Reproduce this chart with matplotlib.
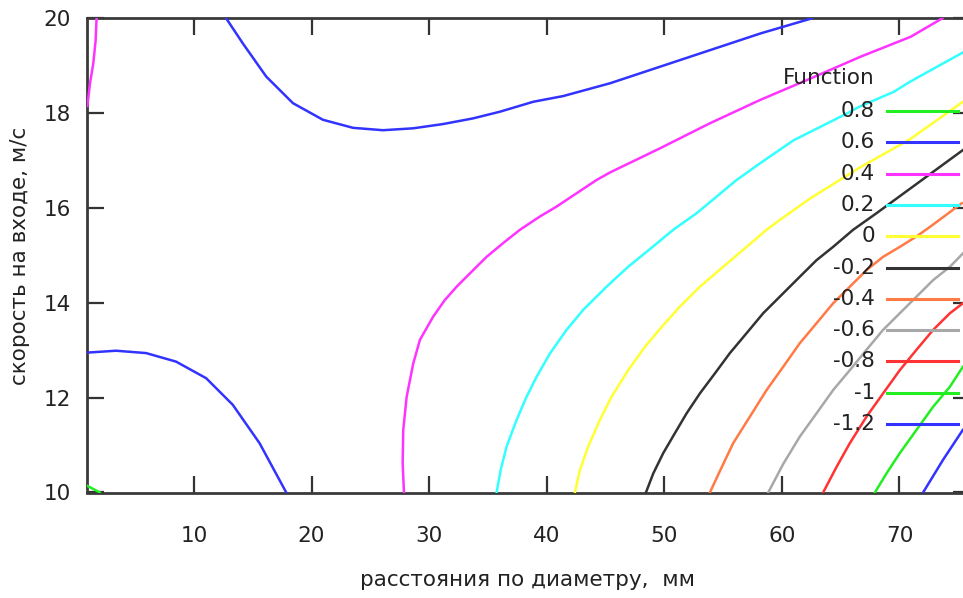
import matplotlib
matplotlib.use("Agg")
import matplotlib.pyplot as plt

# Contour levels and gnuplot-like colours
levels = [0.8, 0.6, 0.4, 0.2, 0, -0.2, -0.4, -0.6, -0.8, -1, -1.2]
level_labels = ["0.8", "0.6", "0.4", "0.2", "0", "-0.2", "-0.4", "-0.6", "-0.8", "-1", "-1.2"]
colors = ["#22ee22", "#3333ff", "#ff33ff", "#33ffff", "#ffff33", "#333333",
          "#ff7a45", "#a8a8a8", "#ff3333", "#22ee22", "#3333ff"]

# Contour lines (x: mm, y: m/s)
c08_x = [0.93, 2.0]
c08_y = [10.14, 10.0]

c06a_x = [0.93, 3.37, 5.93, 8.48, 11.04, 13.30, 15.58, 17.85]
c06a_y = [12.95, 12.99, 12.94, 12.76, 12.41, 11.85, 11.04, 10.0]
c06b_x = [12.74, 14.16, 16.15, 18.42, 20.97, 23.53, 26.08, 28.64, 31.19,
          33.75, 36.02, 38.86, 41.4, 45.39, 49.65, 53.91, 58.17, 62.57]
c06b_y = [20.0, 19.47, 18.77, 18.21, 17.86, 17.69, 17.64, 17.68, 17.77,
          17.89, 18.03, 18.24, 18.36, 18.63, 18.98, 19.33, 19.68, 20.0]

c04a_x = [0.93, 1.01, 1.16, 1.44, 1.64, 1.72]
c04a_y = [18.15, 18.31, 18.63, 19.05, 19.54, 20.0]
c04b_x = [27.86, 27.75, 27.80, 28.09, 28.65, 29.22, 30.35, 31.34, 32.34, 33.75,
          34.89, 36.30, 37.72, 39.42, 40.84, 42.54, 44.24, 45.39, 49.65, 53.91,
          58.17, 62.43, 66.69, 70.95, 73.65]
c04b_y = [10.0, 10.62, 11.32, 12.02, 12.72, 13.22, 13.71, 14.06, 14.34, 14.69,
          14.97, 15.26, 15.54, 15.82, 16.03, 16.31, 16.59, 16.75, 17.26, 17.79,
          18.28, 18.73, 19.19, 19.61, 20.0]

c02_x = [35.74, 36.08, 36.59, 37.44, 38.29, 39.14, 40.27, 41.69, 43.10, 45.09,
         46.93, 49.06, 50.76, 52.75, 54.45, 56.15, 58.13, 61.01, 62.38, 65.27,
         66.63, 69.52, 70.88, 75.4]
c02_y = [10.0, 10.47, 10.97, 11.53, 12.02, 12.44, 12.93, 13.43, 13.85, 14.34,
         14.76, 15.19, 15.54, 15.89, 16.24, 16.59, 16.94, 17.43, 17.6, 17.96,
         18.14, 18.45, 18.66, 19.28]

c00_x = [42.40, 42.82, 43.53, 44.52, 45.52, 46.93, 48.35, 49.77, 51.33, 53.03,
         55.01, 57.00, 58.70, 59.83, 62.4, 66.6, 70.9, 75.4]
c00_y = [10.0, 10.47, 10.97, 11.53, 12.02, 12.58, 13.07, 13.49, 13.92, 14.34,
         14.76, 15.18, 15.54, 15.75, 16.2, 16.85, 17.45, 18.24]

cm02_x = [48.44, 49.06, 49.91, 50.90, 51.90, 53.03, 54.30, 55.58, 57.0, 58.41,
          60.11, 61.81, 62.95, 64.36, 66.06, 68.05, 72.30, 75.39]
cm02_y = [10.0, 10.40, 10.83, 11.25, 11.67, 12.09, 12.51, 12.94, 13.36, 13.78,
          14.20, 14.62, 14.90, 15.18, 15.54, 15.89, 16.66, 17.22]

cm04_x = [53.88, 55.01, 55.86, 57.28, 58.70, 60.11, 61.53, 62.95, 64.36, 65.78,
          67.20, 68.61, 70.03, 71.45, 72.59, 75.3]
cm04_y = [10.0, 10.60, 11.04, 11.60, 12.16, 12.65, 13.15, 13.57, 13.99, 14.34,
          14.69, 14.97, 15.18, 15.40, 15.6, 16.1]

cm06_x = [58.84, 60.11, 61.53, 62.95, 64.36, 65.78, 67.20, 68.61, 70.03, 71.45,
          72.87, 74.29, 75.39]
cm06_y = [10.0, 10.60, 11.18, 11.67, 12.16, 12.58, 13.01, 13.43, 13.78, 14.13,
          14.48, 14.76, 15.04]

cm08_x = [63.51, 64.65, 65.78, 67.20, 68.61, 70.03, 71.45, 72.87, 74.29, 75.39]
cm08_y = [10.0, 10.54, 11.04, 11.60, 12.09, 12.58, 13.01, 13.43, 13.78, 13.99]

cm10_x = [67.91, 68.97, 70.03, 72.87, 74.29, 75.39]
cm10_y = [10.0, 10.43, 10.83, 11.81, 12.23, 12.65]

cm12_x = [72.01, 73.71, 75.39]
cm12_y = [10.0, 10.69, 11.32]

curves = [
    [(c08_x, c08_y)],
    [(c06a_x, c06a_y), (c06b_x, c06b_y)],
    [(c04a_x, c04a_y), (c04b_x, c04b_y)],
    [(c02_x, c02_y)],
    [(c00_x, c00_y)],
    [(cm02_x, cm02_y)],
    [(cm04_x, cm04_y)],
    [(cm06_x, cm06_y)],
    [(cm08_x, cm08_y)],
    [(cm10_x, cm10_y)],
    [(cm12_x, cm12_y)],
]

x_ticks = [10, 20, 30, 40, 50, 60, 70]
y_ticks = [10, 12, 14, 16, 18, 20]

W, H = 963, 598
fig = plt.figure(figsize=(W / 100, H / 100), dpi=100)
# axes run past the right edge of the picture (the original is cropped)
left, right, top, bottom = 87.3, 970, 18.3, 492.5
ax = fig.add_axes([left / W, 1 - bottom / H, (right - left) / W, (bottom - top) / H])

for segs, col in zip(curves, colors):
    for xs, ys in segs:
        ax.plot(xs, ys, color=col, lw=1.8, solid_joinstyle="round", zorder=3)

ax.set_xlim(0.93, 76)
ax.set_ylim(10, 20)
ax.set_xticks(x_ticks)
ax.set_yticks(y_ticks)
ax.tick_params(direction="in", length=12, width=1.6, color="#333333",
               top=True, right=True, labelsize=15.5, labelcolor="#222222")
ax.tick_params(axis="x", pad=24)
ax.tick_params(axis="y", pad=12)
for sp in ax.spines.values():
    sp.set_linewidth(2.0)
    sp.set_color("#3a3a3a")

fig.text(528 / W, 1 - 580 / H, "расстояния по диаметру,  мм", ha="center",
         va="center", fontsize=15.5, color="#222222")
fig.text(20 / W, 1 - 256 / H, "скорость на входе, м/с", ha="center",
         va="center", rotation=90, fontsize=15.5, color="#222222")

# key, drawn like gnuplot: labels right-aligned, sample line to the right
fig.text(875 / W, 1 - 78 / H, "Function", ha="right", va="center",
         fontsize=15.5, color="#222222")
for i, (lab, col) in enumerate(zip(level_labels, colors)):
    yy = 1 - (111 + i * 31.3) / H
    fig.text(875 / W, yy, lab, ha="right", va="center", fontsize=15.5,
             color="#222222", zorder=1)
    fig.add_artist(plt.Line2D([887 / W, 958 / W], [yy, yy], color=col, lw=2.2,
                              transform=fig.transFigure, zorder=2))

fig.savefig("out.png", dpi=100)
